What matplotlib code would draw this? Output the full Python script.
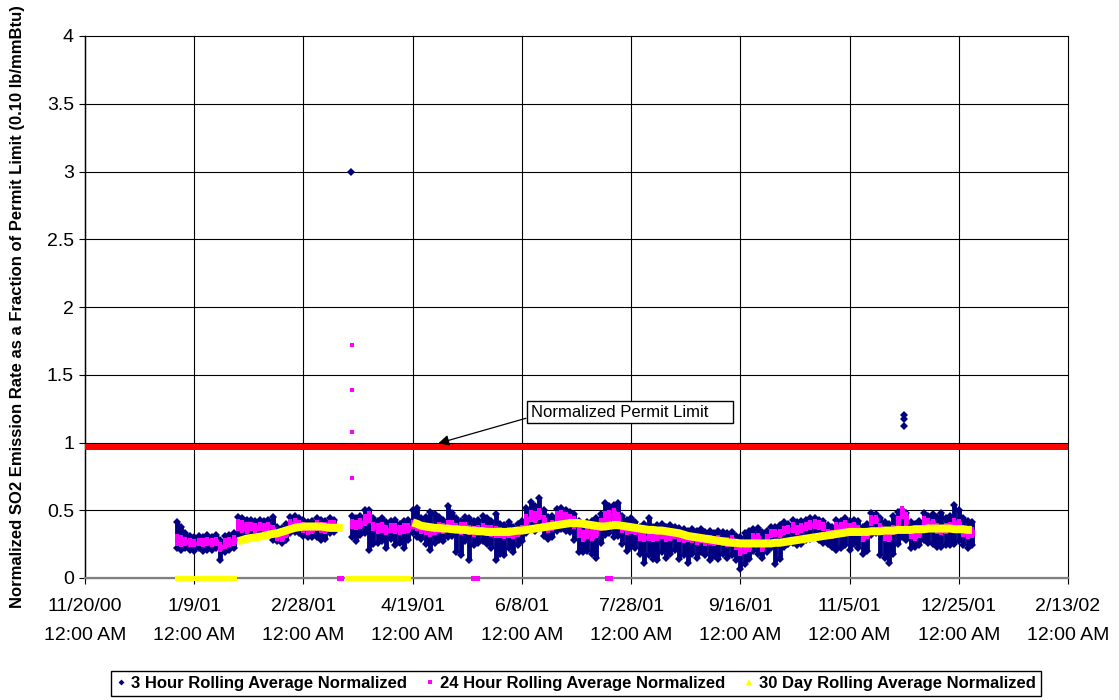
import numpy as np
import matplotlib
matplotlib.use("Agg")
import matplotlib.pyplot as plt
import matplotlib.dates as mdates
from matplotlib.patches import Rectangle
from matplotlib.lines import Line2D

plt.rcParams['font.family'] = ['Liberation Sans', 'DejaVu Sans']

# ---------------------------------------------------------------------------
# Data (normalized SO2 emission rate, fraction of 0.10 lb/mmBtu limit)
# Readings summarised every second day of 2001 (day 0 = 1 Jan 2001).
# Values are in hundredths of the permit limit; None = no data.
# ---------------------------------------------------------------------------
year_start = '2001-01-01'
step_days = np.arange(0, 366, 2)

# 24 hour rolling average: daily low / high
p24_lo = [25, 24, 25, 24, 24, 25, 24, 25, 24, 25,
          21, 23, 24, 25, 36, 35, 34, 36, 35, 36,
          35, 36, 33, 29, 28, 31, 37, 38, 37, 35,
          33, 34, 36, 35, 34, 37, 38, None, None, None,
          38, 37, 38, 40, 42, 36, 34, 35, 33, 35,
          34, 33, 34, 35, 38, 36, 34, 33, 32, 33,
          35, 34, 36, 37, 34, 33, 35, 33, 32, 33,
          34, 33, 32, 31, 31, 30, 31, 30, 32, 34,
          40, 43, 42, 44, 39, 35, 36, 42, 43, 42,
          41, 38, 31, 28, 30, 29, 31, 36, 42, 43,
          42, 41, 35, 33, 34, 33, 29, 28, 29, 28,
          29, 30, 28, 29, 30, 28, 27, 28, 27, 26,
          27, 25, 26, 25, 26, 25, 24, 25, 22, 18,
          19, 21, 28, 29, 21, 27, 31, 32, 31, 33,
          34, 35, 33, 35, 36, 37, 38, 37, 36, 31,
          30, 35, 35, 36, 34, 35, 33, 28, 30, 40,
          41, 34, 29, 28, 33, 38, 45, 40, 30, 29,
          31, 39, 38, 37, 34, 33, 34, 36, 39, 38,
          32, 30, 31]
p24_hi = [31, 30, 29, 28, 27, 28, 28, 29, 28, 29,
          25, 28, 29, 30, 42, 41, 40, 40, 39, 40,
          39, 40, 38, 34, 33, 35, 42, 43, 41, 40,
          38, 39, 41, 40, 40, 41, 41, None, None, None,
          42, 41, 43, 46, 48, 40, 39, 40, 38, 39,
          39, 38, 39, 39, 41, 40, 39, 38, 37, 38,
          40, 39, 41, 41, 39, 40, 40, 38, 37, 38,
          39, 38, 38, 37, 36, 35, 36, 34, 36, 38,
          46, 49, 48, 50, 45, 40, 41, 48, 49, 47,
          46, 44, 37, 34, 36, 35, 37, 43, 48, 49,
          50, 47, 40, 38, 38, 37, 33, 32, 33, 33,
          34, 34, 33, 34, 34, 33, 32, 32, 31, 30,
          31, 30, 30, 29, 30, 29, 29, 30, 27, 23,
          24, 26, 32, 32, 26, 31, 35, 35, 35, 37,
          38, 40, 38, 39, 40, 41, 42, 41, 40, 35,
          34, 40, 40, 41, 39, 40, 38, 32, 34, 45,
          45, 39, 34, 33, 38, 44, 52, 47, 34, 33,
          35, 44, 43, 42, 39, 38, 39, 40, 43, 42,
          37, 35, 36]

# 3 hour rolling average: daily low / high
h3_lo = [22, 21, 22, 21, 20, 22, 20, 21, 21, 22,
         13, 19, 21, 22, 30, 31, 30, 32, 31, 32,
         31, 32, 28, 27, 26, 28, 33, 34, 33, 31,
         30, 30, 30, 28, 29, 33, 34, None, None, None,
         30, 27, 32, 33, 21, 25, 26, 27, 22, 29,
         24, 26, 22, 28, 33, 30, 29, 25, 21, 26,
         28, 27, 30, 31, 19, 17, 27, 13, 24, 26,
         27, 25, 22, 13, 18, 17, 22, 19, 24, 27,
         33, 36, 35, 37, 31, 29, 30, 35, 36, 35,
         34, 28, 19, 19, 20, 18, 15, 26, 32, 33,
         30, 31, 25, 20, 23, 22, 18, 11, 17, 14,
         13, 19, 15, 18, 21, 14, 17, 11, 18, 15,
         19, 17, 13, 16, 14, 18, 15, 17, 13, 7,
         10, 14, 20, 18, 15, 19, 22, 10, 14, 23,
         25, 26, 24, 25, 28, 29, 30, 28, 26, 25,
         23, 21, 22, 24, 21, 25, 22, 18, 20, 32,
         33, 17, 15, 11, 18, 25, 30, 28, 22, 23,
         24, 28, 26, 25, 23, 23, 24, 24, 25, 27,
         24, 22, 24]
h3_hi = [41, 38, 33, 31, 30, 31, 30, 32, 30, 32,
         28, 31, 32, 33, 45, 44, 43, 43, 42, 43,
         42, 43, 45, 38, 37, 40, 45, 46, 44, 43,
         41, 42, 44, 43, 42, 44, 43, None, None, None,
         46, 44, 46, 50, 50, 44, 42, 44, 41, 42,
         43, 40, 42, 43, 50, 52, 44, 45, 49, 47,
         45, 43, 53, 48, 44, 42, 45, 44, 42, 43,
         46, 44, 42, 47, 40, 39, 41, 38, 40, 42,
         52, 56, 53, 59, 50, 45, 46, 51, 52, 50,
         49, 47, 42, 40, 41, 42, 44, 47, 55, 53,
         54, 55, 46, 43, 44, 41, 38, 40, 44, 38,
         39, 40, 38, 39, 38, 37, 36, 35, 36, 35,
         36, 34, 35, 33, 35, 34, 33, 34, 31, 30,
         33, 35, 36, 37, 34, 35, 38, 38, 39, 41,
         40, 43, 41, 42, 43, 44, 44, 43, 42, 39,
         38, 43, 42, 44, 42, 43, 42, 38, 40, 48,
         47, 44, 41, 40, 46, 49, 50, 48, 41, 40,
         42, 48, 46, 47, 45, 48, 44, 46, 54, 50,
         44, 42, 41]

# 30 day rolling average
d30 = [0, 0, 0, 0, 0, 0, 0, 0, 0, 0,
       0, 0, 0, 0, 27, 28, 29, 29.5, 30, 30.5,
       31, 32, 32.5, 33, 34, 35, 36, 37, 37.5, 38,
       38, 38, 38, 38, 37.5, 37, 37, 37, 37, 0,
       0, 0, 0, 0, 0, 0, 0, 0, 0, 0,
       0, 0, 0, 0, 41, 40, 38.5, 38, 37.5, 37,
       37, 36.5, 36.5, 36, 36, 35.5, 35.5, 35, 35, 34.5,
       34.5, 34, 34, 34, 34, 34, 34, 34.5, 35, 35,
       35.5, 36, 36.5, 37, 37.5, 38, 38.5, 39, 39.5, 40,
       40.5, 40.5, 40.5, 40, 39.5, 39, 38.5, 38, 38, 38.5,
       39, 39, 38.5, 38, 37.5, 37, 36.5, 36, 35.5, 35.5,
       35, 35, 34.5, 34, 33.5, 33, 32, 31, 30.5, 30,
       29.5, 29, 28.5, 28, 27.5, 27, 26.5, 26, 26, 25.5,
       25.5, 25.5, 25.5, 25.5, 25.5, 25.5, 25.5, 26, 26, 26.5,
       27, 27.5, 28, 28.5, 29, 29.5, 30, 30.5, 31, 31.5,
       32, 32.5, 33, 33.5, 34, 34, 34, 34, 34, 34.5,
       34.5, 34.5, 35, 35, 35, 35.5, 35.5, 35.5, 35.5, 36,
       36, 36, 36.5, 36.5, 36.5, 36.5, 36.5, 36.5, 36, 36,
       36, 35.5, 35.5]

# isolated readings (day of year, value as fraction of limit)
h3_spike_days = [79.8, 333.0, 333.0, 333.0]
h3_spike_vals = [3.00, 1.20, 1.17, 1.12]
p24_spike_days = [80.3, 80.3, 80.3, 80.3]
p24_spike_vals = [1.72, 1.39, 1.08, 0.74]
p24_zero_days = [0.0, 74.5, 75.0, 135.5, 136.5, 137.5, 197.0, 197.7, 198.4]

permit_limit = 0.97

tick_dates = ['2000-11-20', '2001-01-09', '2001-02-28', '2001-04-19',
              '2001-06-08', '2001-07-28', '2001-09-16', '2001-11-05',
              '2001-12-25', '2002-02-13']
tick_labels = ['11/20/00\n12:00 AM', '1/9/01\n12:00 AM', '2/28/01\n12:00 AM',
               '4/19/01\n12:00 AM', '6/8/01\n12:00 AM', '7/28/01\n12:00 AM',
               '9/16/01\n12:00 AM', '11/5/01\n12:00 AM', '12/25/01\n12:00 AM',
               '2/13/02\n12:00 AM']
y_ticks = [0, 0.5, 1, 1.5, 2, 2.5, 3, 3.5, 4]
y_tick_labels = ['0', '0.5', '1', '1.5', '2', '2.5', '3', '3.5', '4']

series_names = ['3 Hour Rolling Average Normalized',
                '24 Hour Rolling Average Normalized',
                '30 Day Rolling Average Normalized']

# ---------------------------------------------------------------------------
NAVY = '#000080'
PINK = '#FF00FF'
YELLOW = '#FFFF00'

t0 = mdates.date2num(np.datetime64(year_start))


def pct(v):
    return np.array(v, dtype=float) / 100.0


x = t0 + step_days
lo3, hi3 = pct(h3_lo), pct(h3_hi)
lo24, hi24 = pct(p24_lo), pct(p24_hi)
avg30 = pct(d30)

fig = plt.figure(figsize=(11.19, 7.0), dpi=100)
ax = fig.add_axes([85 / 1119, 1 - 578 / 700, 983 / 1119, 542 / 700])

# 3 hour series: daily spread
ax.vlines(x, lo3, hi3, colors=NAVY, linewidth=3.5, zorder=2)
ax.plot(x, lo3, 'D', color=NAVY, ms=3.8, mew=0, zorder=2)
ax.plot(x, hi3, 'D', color=NAVY, ms=3.8, mew=0, zorder=2)
ax.plot(t0 + np.array(h3_spike_days), h3_spike_vals, 'D', color=NAVY,
        ms=3.6, mew=0, zorder=2)

# 24 hour series: daily spread
ax.vlines(x, lo24, hi24, colors=PINK, linewidth=3.5, zorder=3)
ax.plot(x, lo24, 's', color=PINK, ms=3.3, mew=0, zorder=3)
ax.plot(x, hi24, 's', color=PINK, ms=3.3, mew=0, zorder=3)
ax.plot(t0 + np.array(p24_spike_days), p24_spike_vals, 's', color=PINK,
        ms=3.0, mew=0, zorder=3)
ax.plot(t0 + np.array(p24_zero_days), np.zeros(len(p24_zero_days)), 's',
        color=PINK, ms=3.6, mew=0, zorder=3, clip_on=False)

# 30 day series: consecutive readings drawn as one continuous trace
breaks = np.where(np.abs(np.diff(avg30)) > 0.1)[0] + 1
for run_x, run_y in zip(np.split(x, breaks), np.split(avg30, breaks)):
    if np.all(run_y == 0):
        width, cap = 3.6, 'projecting'
    else:
        width, cap = 5.8, 'butt'
    ax.plot(run_x, run_y, '-', color=YELLOW, lw=width,
            solid_capstyle=cap, zorder=4, clip_on=False)

# permit limit
ax.axhline(permit_limit, color='#FF0000', lw=4.3, zorder=5)

# axes styling
x_ticks = [mdates.date2num(np.datetime64(d)) for d in tick_dates]
ax.set_xlim(x_ticks[0], x_ticks[-1])
ax.set_ylim(0, 4)
ax.set_xticks(x_ticks)
ax.set_xticklabels(tick_labels, linespacing=1.9)
ax.set_yticks(y_ticks)
ax.set_yticklabels(y_tick_labels)
ax.grid(True, color='black', lw=0.8, zorder=0)
ax.set_axisbelow(True)
for side in ('top', 'right'):
    ax.spines[side].set_visible(False)
ax.spines['left'].set_color('black')
ax.spines['left'].set_linewidth(1.0)
ax.spines['bottom'].set_color('#808080')
ax.spines['bottom'].set_linewidth(1.6)
ax.tick_params(axis='y', direction='out', length=4.5, width=0.8,
               labelsize=14, pad=3.5, colors='black')
ax.tick_params(axis='x', direction='out', length=4.5, width=0.8,
               labelsize=14, pad=10, colors='black')
for gl in ax.get_xgridlines() + ax.get_ygridlines():
    gl.set_clip_on(False)

# callout
box = Rectangle((0.4497, 0.286), 0.2093, 0.0406, transform=ax.transAxes,
                facecolor='white', edgecolor='black', lw=1.0, zorder=6,
                clip_on=False)
ax.add_patch(box)
ax.text(0.4537, 0.306, 'Normalized Permit Limit', transform=ax.transAxes,
        ha='left', va='center', fontsize=12, zorder=7)
ax.annotate('', xy=(0.3594, 0.2485), xytext=(0.4486, 0.2947),
            xycoords='axes fraction', textcoords='axes fraction',
            arrowprops=dict(arrowstyle='-|>', color='black', lw=0.9,
                            mutation_scale=16, shrinkA=0, shrinkB=0),
            zorder=6)

# y axis title
fig.text(18 / 1119, 1 - 307 / 700,
         'Normalized SO2 Emission Rate as a Fraction of Permit Limit (0.10 lb/mmBtu)',
         rotation=90, ha='center', va='center', fontsize=12,
         fontweight='bold')

# legend
handles = [Line2D([], [], ls='none', marker='D', color=NAVY, ms=3, mew=0),
           Line2D([], [], ls='none', marker='s', color=PINK, ms=3.5, mew=0),
           Line2D([], [], ls='none', marker='^', color=YELLOW, ms=4, mew=0)]
leg = fig.legend(handles, series_names, loc='center',
                 bbox_to_anchor=(576 / 1119, 1 - 683.5 / 700), ncol=3,
                 frameon=True, fancybox=False, edgecolor='black',
                 framealpha=1, handlelength=0.6, handletextpad=0.3,
                 columnspacing=1.1, borderpad=0.3,
                 prop={'weight': 'bold', 'size': 12})
leg.get_frame().set_linewidth(1.0)

fig.savefig('out.png', dpi=100)
